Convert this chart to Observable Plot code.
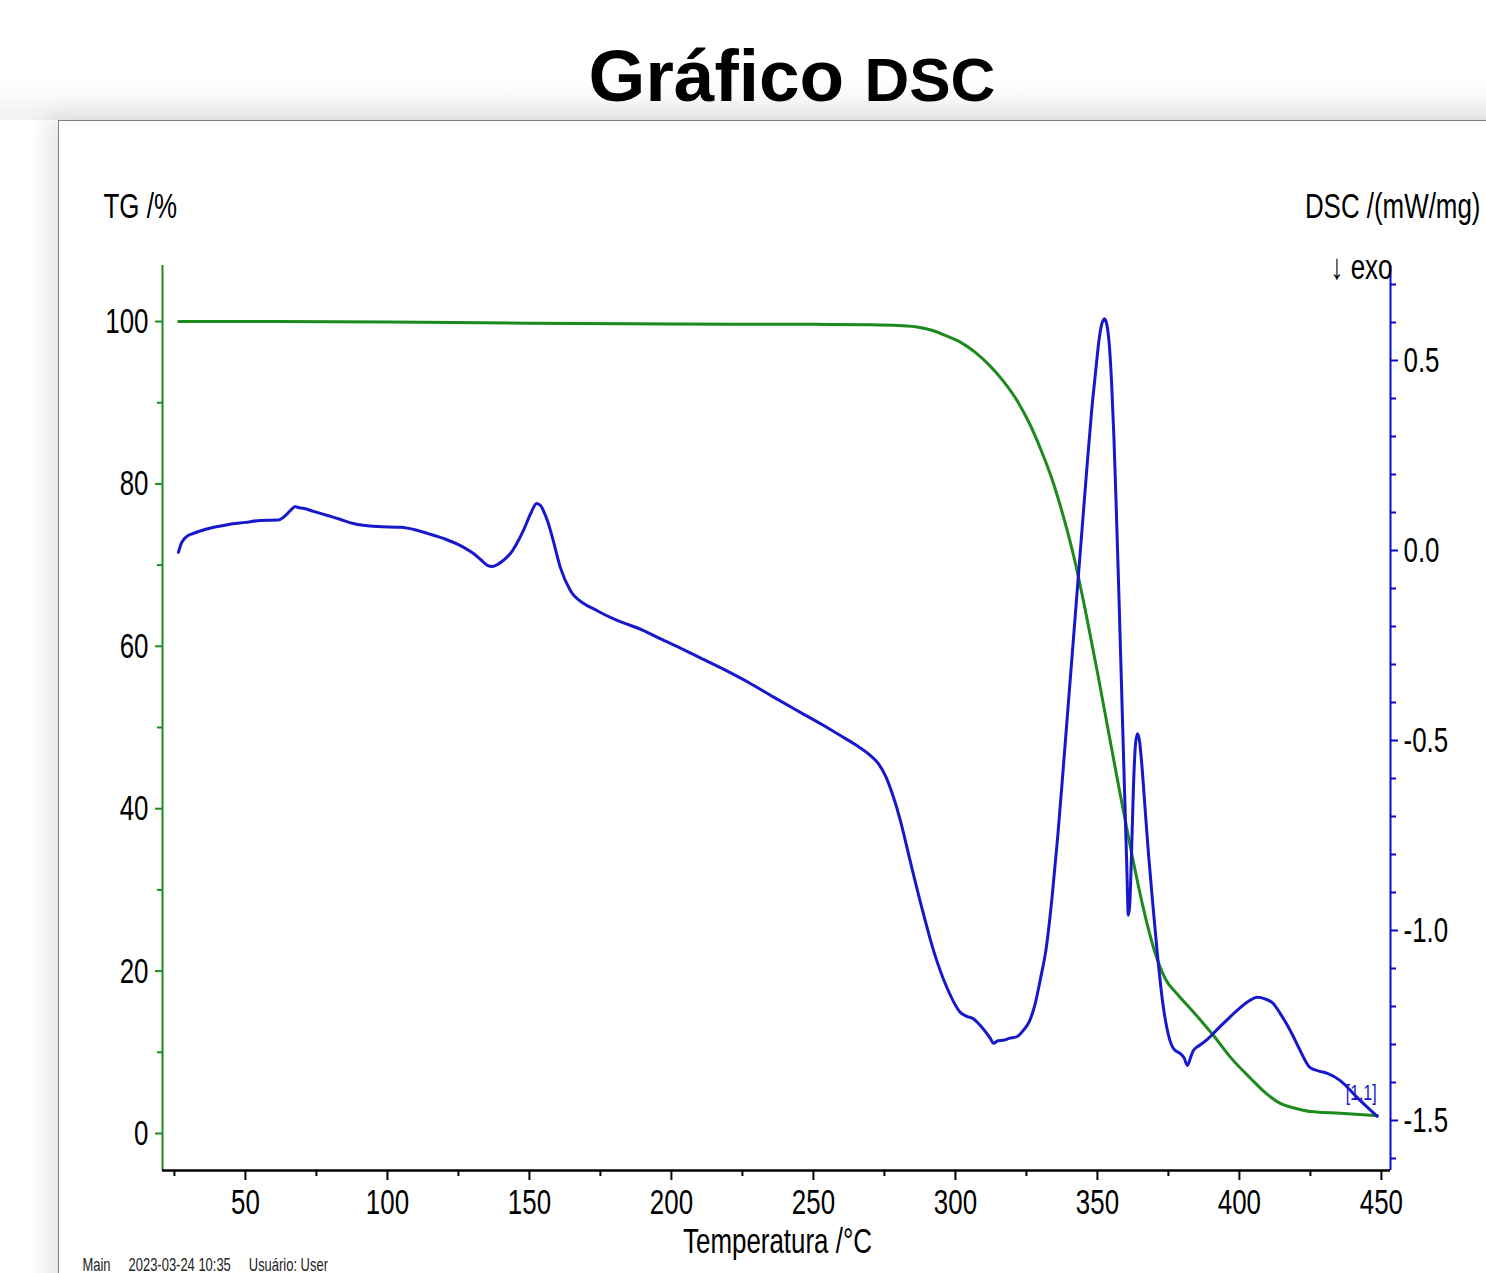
<!DOCTYPE html>
<html>
<head>
<meta charset="utf-8">
<script src="https://cdn.jsdelivr.net/npm/d3@7"></script>
<script src="https://cdn.jsdelivr.net/npm/@observablehq/plot@0.6"></script>
<style>
  html, body { margin: 0; padding: 0; background: #ffffff; width: 1486px; height: 1273px; overflow: hidden; }
  body { font-family: "Liberation Sans", Arial, sans-serif; position: relative; }
  #topband { position: absolute; left: 0; top: 0; width: 1486px; height: 120px;
    background: linear-gradient(to bottom, #ffffff 0px, #ffffff 80px, #f1f1f1 118px); }
  #title { position: absolute; left: 49px; top: 39px; width: 1486px; text-align: center; white-space: nowrap;
    font-weight: bold; font-size: 73px; line-height: 73px; color: #000; }
  #title .small { font-size: 62px; }
  #panel { position: absolute; left: 58px; top: 120px; width: 1460px; height: 1200px; background: #fff;
    border-top: 1px solid #7d7d7d; border-left: 1px solid #7d7d7d;
    box-shadow: -10px -4px 22px rgba(0,0,0,0.10); }
  #chart { position: absolute; left: 0; top: 120px; }
</style>
</head>
<body>
<div id="topband"></div>
<div id="title">Gráfico <span class="small">DSC</span></div>
<div id="panel"></div>
<div id="chart"></div>
<script>
// ---- Data ----
const dscTemp = [26.4,27.5,29,31.7,36,43.7,50,55.3,61.6,63.5,65.8,67.6,68.5,70.4,74,78.9,83,88,96.5,104.6,110,114.1,120,125.7,130.3,133,135.2,137,138.7,141,143.3,145.5,147.9,150.5,152.5,154,154.9,156.5,158.1,160.9,164.4,169,173,178.5,182,190,196,203,210,219,227.8,236,245.4,253,259.5,265,270,273,275.5,278,280.6,284,288,292.3,297,301.8,304,306.3,309,312.3,313.4,315,316.9,319,321.8,323.9,326,328,330,332,334,336,338,340,342,344,346,348,349.5,350.5,351.5,352.5,353.3,354.2,355,355.8,356.6,357.5,358.5,359.5,360.3,360.9,361.4,362,362.7,363.4,364.1,364.8,365.6,366.6,368,369.5,371,373,375,376.8,379.2,380.5,381.7,383,383.8,386,388.5,390.8,395,400.3,403.5,406.3,409,411.9,414.5,417.9,421,424.9,428,431,435.5,441.5,445,448.5];
const dscValue = [-0.005,0.02,0.035,0.045,0.056,0.068,0.074,0.079,0.080,0.088,0.105,0.116,0.113,0.111,0.103,0.092,0.083,0.071,0.063,0.061,0.054,0.045,0.031,0.013,-0.008,-0.025,-0.039,-0.042,-0.037,-0.025,-0.008,0.018,0.053,0.098,0.124,0.118,0.105,0.075,0.034,-0.045,-0.105,-0.139,-0.155,-0.176,-0.187,-0.210,-0.232,-0.256,-0.282,-0.315,-0.350,-0.386,-0.426,-0.458,-0.487,-0.512,-0.539,-0.562,-0.595,-0.645,-0.71,-0.815,-0.935,-1.053,-1.15,-1.216,-1.226,-1.232,-1.252,-1.284,-1.297,-1.29,-1.289,-1.284,-1.279,-1.263,-1.24,-1.195,-1.125,-1.045,-0.915,-0.755,-0.57,-0.38,-0.19,0.0,0.19,0.37,0.48,0.55,0.595,0.61,0.595,0.54,0.44,0.30,0.12,-0.10,-0.36,-0.62,-0.82,-0.96,-0.93,-0.80,-0.62,-0.51,-0.482,-0.50,-0.56,-0.66,-0.80,-0.93,-1.053,-1.19,-1.275,-1.311,-1.324,-1.335,-1.355,-1.33,-1.316,-1.302,-1.288,-1.271,-1.24,-1.203,-1.185,-1.176,-1.18,-1.192,-1.22,-1.263,-1.31,-1.361,-1.37,-1.376,-1.395,-1.44,-1.465,-1.489];

const tgTemp = [26.5,60,100,150,200,250,270,280,287,292,297,302,307,312,317,322,326,330,334,338,342,346,350,354,358,362,366,370,374,378,382.7,386.7,390.8,396.8,403.9,409.2,414.4,419.7,425,435.6,448.6];
const tgValue = [100.0,100.0,99.95,99.8,99.7,99.65,99.6,99.5,99.3,98.9,98.2,97.4,96.2,94.6,92.6,90.1,87.5,84.3,80.6,76.0,70.6,64.0,56.8,49.3,41.8,34.6,28.0,22.6,19.0,17.2,15.4,13.8,12.1,9.4,6.8,5.0,3.7,3.1,2.7,2.5,2.2];

const tempTicks = [50,100,150,200,250,300,350,400,450];
const tempMinorTicks = [25,75,125,175,225,275,325,375,425];
const tgTicks = [0,20,40,60,80,100];
const tgMinorTicks = [10,30,50,70,90];
const dscTicks = [-1.5,-1.0,-0.5,0.0,0.5];
const dscMinorTicks = [-1.6,-1.4,-1.3,-1.2,-1.1,-0.9,-0.8,-0.7,-0.6,-0.4,-0.3,-0.2,-0.1,0.1,0.2,0.3,0.4,0.6,0.7];

const tgLabel = ["TG /%"];
const dscLabel = ["DSC /(mW/mg)"];
const exoLabel = ["\u2193 exo"];
const xLabel = ["Temperatura /°C"];
const footer = ["Main\u00a0\u00a0\u00a0\u00a0 2023-03-24 10:35\u00a0\u00a0\u00a0\u00a0 Usuário: User"];
const endLabel = [{t: 448.5, v: -1.489, label: "[1,1]"}];

// ---- Scales ----
const X_DOMAIN = [20.8, 453.2];
const Y_DOMAIN = [-4.56, 106.9];        // TG /% (left)
const DSC_AT_TG_ZERO = 71.8;            // DSC 0.0 sits at TG 71.8
const TG_PER_DSC = 46.8;                // 1 mW/mg spans 46.8 % on the left scale
const toTG = d => DSC_AT_TG_ZERO + TG_PER_DSC * d;
const fromTG = v => (v - DSC_AT_TG_ZERO) / TG_PER_DSC;

const GREEN = "#1d8a1d";
const BLUE = "#1717cc";
const AXIS_BLUE = "#0a0ad4";
const FONT = "'Liberation Sans', Arial, sans-serif";

const tgData = tgTemp.map((t, i) => ({t, v: tgValue[i]}));
const dscData = dscTemp.map((t, i) => ({t, v: toTG(dscValue[i])}));

const chart = Plot.plot({
  width: 1486,
  height: 1153,
  marginLeft: 162,
  marginRight: 96,
  marginTop: 145,
  marginBottom: 103,
  x: {domain: X_DOMAIN},
  y: {domain: Y_DOMAIN},
  style: {fontFamily: FONT, background: "transparent", overflow: "visible", color: "black"},
  marks: [
    Plot.lineY(tgData, {x: "t", y: "v", stroke: GREEN, strokeWidth: 3, curve: "monotone-x"}),
    Plot.lineY(dscData, {x: "t", y: "v", stroke: BLUE, strokeWidth: 3, curve: "monotone-x"}),
    Plot.ruleX([X_DOMAIN[0]], {stroke: GREEN, strokeWidth: 2}),
    Plot.ruleX([X_DOMAIN[1]], {stroke: AXIS_BLUE, strokeWidth: 2}),
    Plot.ruleY([Y_DOMAIN[0]], {stroke: "black", strokeWidth: 2.5}),
    Plot.axisY(tgTicks, {anchor: "left", tickSize: 7, tickPadding: 7, stroke: GREEN, strokeWidth: 2, fill: "black", fontSize: 36, label: null, tickFormat: d => String(d)}),
    Plot.axisY(tgMinorTicks, {anchor: "left", tickSize: 5, stroke: GREEN, strokeWidth: 2, tickFormat: () => "", label: null}),
    Plot.axisX(tempTicks, {anchor: "bottom", tickSize: 10, tickPadding: 8, stroke: "black", strokeWidth: 2, fill: "black", fontSize: 36, label: null, tickFormat: d => String(d)}),
    Plot.axisX(tempMinorTicks, {anchor: "bottom", tickSize: 6, stroke: "black", strokeWidth: 2, tickFormat: () => "", label: null}),
    Plot.axisY(dscTicks.map(toTG), {anchor: "right", tickSize: 7, tickPadding: 6, stroke: AXIS_BLUE, strokeWidth: 2, fill: "black", fontSize: 36, label: null, tickFormat: d => fromTG(d).toFixed(1)}),
    Plot.axisY(dscMinorTicks.map(toTG), {anchor: "right", tickSize: 5, stroke: AXIS_BLUE, strokeWidth: 2, tickFormat: () => "", label: null}),
    Plot.text(tgLabel, {text: d => d, frameAnchor: "top-left", textAnchor: "start", lineAnchor: "bottom", dx: -59, dy: -48, fontSize: 36, fill: "black"}),
    Plot.text(dscLabel, {text: d => d, frameAnchor: "top-right", textAnchor: "end", lineAnchor: "bottom", dx: 90, dy: -48, fontSize: 36, fill: "black"}),
    Plot.text(exoLabel, {text: d => d, frameAnchor: "top-right", textAnchor: "end", lineAnchor: "bottom", dx: 2, dy: 13, fontSize: 36, fill: "black"}),
    Plot.text(xLabel, {text: d => d, frameAnchor: "bottom", textAnchor: "middle", lineAnchor: "bottom", dx: 1, dy: 82, fontSize: 36, fill: "black"}),
    Plot.text(footer, {text: d => d, frameAnchor: "bottom-left", textAnchor: "start", lineAnchor: "bottom", dx: -80, dy: 100, fontSize: 18, fill: "#222"}),
    Plot.text(endLabel, {x: "t", y: d => toTG(d.v), text: "label", dx: -16, dy: -23, fontSize: 22, fill: BLUE})
  ]
});

// condense text horizontally (the reference uses a narrow face)
const CONDENSE = 0.72;
chart.querySelectorAll("text").forEach(el => {
  const ax = parseFloat(el.getAttribute("x")) || 0;
  const tr = el.getAttribute("transform") || "";
  el.setAttribute("transform", `${tr} translate(${ax},0) scale(${CONDENSE},1) translate(${-ax},0)`.trim());
});

document.getElementById("chart").appendChild(chart);
</script>
</body>
</html>
